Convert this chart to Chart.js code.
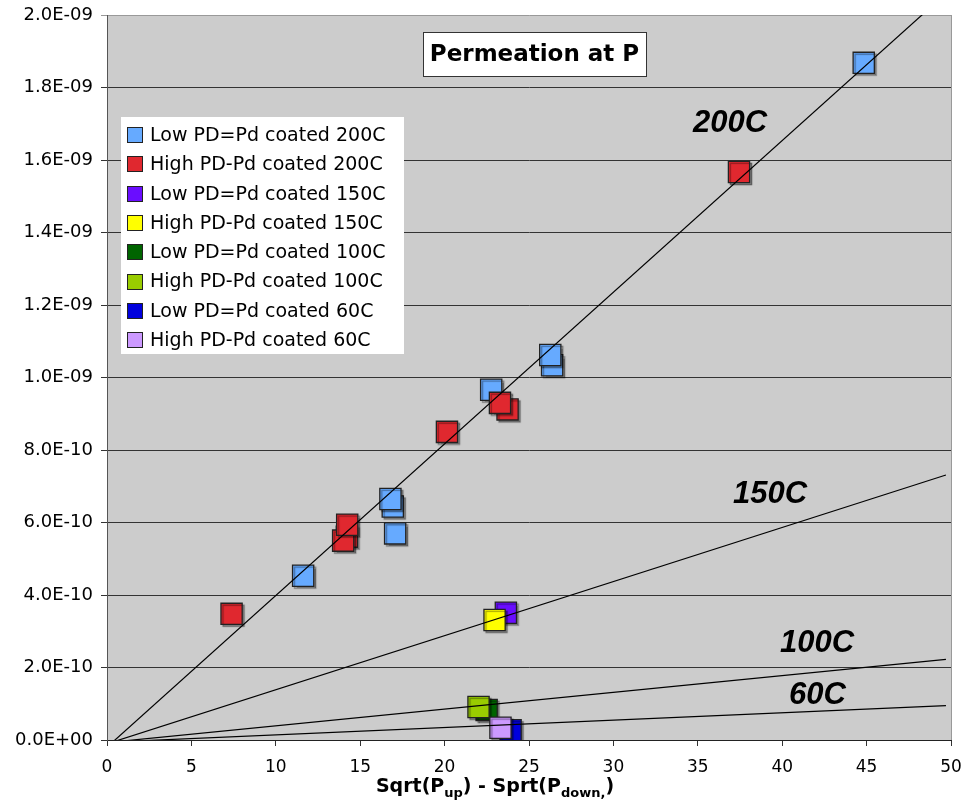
<!DOCTYPE html>
<html>
<head>
<meta charset="utf-8">
<title>Permeation at P</title>
<script src="https://cdn.jsdelivr.net/npm/chart.js@4.4.1/dist/chart.umd.min.js"></script>
<style>
    html, body { margin: 0; padding: 0; background: #fff; }
    #wrap { width: 965px; height: 801px; }
</style>
</head>
<body>
<div id="wrap"><canvas id="chart"></canvas></div>
<script>
// Series names and colours, in legend order
const seriesLabels = [
    'Low PD=Pd coated 200C', 'High PD-Pd coated 200C',
    'Low PD=Pd coated 150C', 'High PD-Pd coated 150C',
    'Low PD=Pd coated 100C', 'High PD-Pd coated 100C',
    'Low PD=Pd coated 60C', 'High PD-Pd coated 60C'
];
const seriesColors = ['#66aaff', '#e0282f', '#6a0dff', '#ffff00', '#006400', '#99cc00', '#0000dd', '#cc99ff'];

// Measured points (x = sqrt(Pup) - sqrt(Pdown), y = permeation)
const low200X  = [11.62, 16.93, 16.79, 17.07, 22.76, 26.37, 26.26, 44.83];
const low200Y  = [4.53e-10, 6.44e-10, 6.65e-10, 5.70e-10, 9.66e-10, 1.034e-9, 1.062e-9, 1.868e-9];
const high200X = [7.38, 14.21, 13.99, 14.23, 20.14, 23.73, 23.28, 37.44];
const high200Y = [3.48e-10, 5.61e-10, 5.50e-10, 5.94e-10, 8.50e-10, 9.12e-10, 9.30e-10, 1.567e-9];
const low150X  = [23.63];
const low150Y  = [3.51e-10];
const high150X = [22.96];
const high150Y = [3.31e-10];
const low100X  = [22.49];
const low100Y  = [8.3e-11];
const high100X = [22.01];
const high100Y = [9.1e-11];
const low60X   = [23.91];
const low60Y   = [2.7e-11];
const high60X  = [23.31];
const high60Y  = [3.4e-11];

// Trend lines: start at x = 0, end at trendEndX
const trendNames  = ['200C', '150C', '100C', '60C'];
const trendStartY = [-1.98e-11, -1.06e-11, -7.1e-12, -6.2e-12];
const trendEndX   = [50, 49.7, 49.7, 49.7];
const trendEndY   = [2.072e-9, 7.31e-10, 2.226e-10, 9.46e-11];

// Axis ticks
const xTicks = [0, 5, 10, 15, 20, 25, 30, 35, 40, 45, 50];
const yStep = 2e-10;
const yMax = 2e-9;

const seriesX = [low200X, high200X, low150X, high150X, low100X, high100X, low60X, high60X];
const seriesY = [low200Y, high200Y, low150Y, high150Y, low100Y, high100Y, low60Y, high60Y];

function toPoints(xs, ys) {
    return xs.map(function(x, i) { return { x: x, y: ys[i] }; });
}

// 2.0E-09 style labels
function sciLabel(v) {
    if (Math.abs(v) < 1e-15) return '0.0E+00';
    const parts = v.toExponential(1).split('e');
    const exp = parseInt(parts[1], 10);
    return parts[0] + 'E' + (exp < 0 ? '-' : '+') + String(Math.abs(exp)).padStart(2, '0');
}

const datasets = [];

trendNames.forEach(function(name, i) {
    datasets.push({
        label: name,
        isTrend: true,
        data: [{ x: 0, y: trendStartY[i] }, { x: trendEndX[i], y: trendEndY[i] }],
        showLine: true,
        borderColor: '#000',
        borderWidth: 1.2,
        pointRadius: 0,
        pointHoverRadius: 0,
        order: 0
    });
});

seriesLabels.forEach(function(label, i) {
    datasets.push({
        label: label,
        data: toPoints(seriesX[i], seriesY[i]),
        pointStyle: 'rect',
        pointRadius: 15,
        pointHoverRadius: 15,
        backgroundColor: seriesColors[i],
        borderColor: '#222',
        borderWidth: 1.3,
        showLine: false,
        order: 20 - i
    });
});

// grey plot area
const plotBackground = {
    id: 'plotBackground',
    beforeDraw(chart) {
        const a = chart.chartArea;
        const ctx = chart.ctx;
        ctx.save();
        ctx.fillStyle = '#cccccc';
        ctx.fillRect(a.left, a.top, a.right - a.left, a.bottom - a.top);
        ctx.strokeStyle = '#999';
        ctx.lineWidth = 1;
        ctx.beginPath();
        ctx.moveTo(Math.round(a.right) + 0.5, a.top);
        ctx.lineTo(Math.round(a.right) + 0.5, a.bottom);
        ctx.stroke();
        ctx.restore();
    }
};

// drop shadow under the markers
const markerShadow = {
    id: 'markerShadow',
    beforeDatasetDraw(chart, args) {
        if (chart.data.datasets[args.index].isTrend) return;
        const ctx = chart.ctx;
        ctx.save();
        ctx.shadowColor = 'rgba(0,0,0,0.35)';
        ctx.shadowOffsetX = 2;
        ctx.shadowOffsetY = 2;
        ctx.shadowBlur = 1;
    },
    afterDatasetDraw(chart, args) {
        if (chart.data.datasets[args.index].isTrend) return;
        chart.ctx.restore();
    }
};

// title box, legend, line labels, axis title
const annotations = {
    id: 'annotations',
    afterDraw(chart) {
        const ctx = chart.ctx;
        ctx.save();

        // title box
        ctx.fillStyle = '#fff';
        ctx.fillRect(423, 32, 223, 44);
        ctx.strokeStyle = '#333';
        ctx.lineWidth = 1;
        ctx.strokeRect(423.5, 32.5, 223, 44);
        ctx.fillStyle = '#000';
        ctx.font = 'bold 23px "DejaVu Sans"';
        ctx.textAlign = 'center';
        ctx.textBaseline = 'middle';
        ctx.fillText('Permeation at P', 534.5, 55);

        // legend
        ctx.fillStyle = '#fff';
        ctx.fillRect(121, 117, 283, 237);
        ctx.font = '19px "DejaVu Sans"';
        ctx.textAlign = 'left';
        ctx.textBaseline = 'middle';
        seriesLabels.forEach(function(label, i) {
            const y = 135 + i * 29.3;
            ctx.fillStyle = seriesColors[i];
            ctx.fillRect(127, Math.round(y) - 8, 16, 16);
            ctx.strokeStyle = '#222';
            ctx.strokeRect(127.5, Math.round(y) - 7.5, 15, 15);
            ctx.fillStyle = '#000';
            ctx.fillText(label, 150, y + 1);
        });

        // trend line labels
        ctx.font = 'italic bold 31px "Liberation Sans"';
        ctx.textBaseline = 'alphabetic';
        const labelPos = [[693, 132], [733, 503], [780, 652], [789, 704]];
        trendNames.forEach(function(name, i) {
            ctx.fillText(name, labelPos[i][0], labelPos[i][1]);
        });

        // x axis title with subscripts
        const parts = [
            ['Sqrt(P', false], ['up', true], [') - Sprt(P', false], ['down,', true], [')', false]
        ];
        const mainFont = 'bold 19px "DejaVu Sans"';
        const subFont = 'bold 13px "DejaVu Sans"';
        let total = 0;
        parts.forEach(function(p) {
            ctx.font = p[1] ? subFont : mainFont;
            total += ctx.measureText(p[0]).width;
        });
        let x = 495 - total / 2;
        parts.forEach(function(p) {
            ctx.font = p[1] ? subFont : mainFont;
            ctx.fillText(p[0], x, p[1] ? 797 : 792);
            x += ctx.measureText(p[0]).width;
        });

        ctx.restore();
    }
};

new Chart(document.getElementById('chart'), {
    type: 'scatter',
    data: { datasets: datasets },
    options: {
        responsive: true,
        maintainAspectRatio: false,
        animation: false,
        layout: { autoPadding: false, padding: { top: 15, right: 14, left: 0, bottom: 0 } },
        plugins: {
            legend: { display: false },
            title: { display: false },
            tooltip: { enabled: false }
        },
        scales: {
            x: {
                type: 'linear',
                min: xTicks[0],
                max: xTicks[xTicks.length - 1],
                afterBuildTicks: function(scale) {
                    scale.ticks = xTicks.map(function(v) { return { value: v }; });
                },
                afterFit: function(scale) {
                    scale.height = 61;
                    scale.paddingLeft = 0;
                    scale.paddingRight = 0;
                },
                grid: { drawOnChartArea: false, drawTicks: true, tickLength: 6, color: '#333' },
                border: { color: '#222', width: 1 },
                ticks: {
                    color: '#000',
                    padding: 11,
                    maxRotation: 0,
                    font: { family: '"DejaVu Sans"', size: 17 }
                }
            },
            y: {
                type: 'linear',
                min: 0,
                max: yMax,
                afterFit: function(scale) {
                    scale.width = 107;
                    scale.paddingTop = 0;
                    scale.paddingBottom = 0;
                },
                grid: {
                    tickLength: 6,
                    color: function(c) { return c.index === c.chart.scales.y.ticks.length - 1 ? '#999' : '#333'; }
                },
                border: { color: '#555', width: 1 },
                ticks: {
                    stepSize: yStep,
                    color: '#000',
                    padding: 8,
                    font: { family: '"DejaVu Sans"', size: 18 },
                    callback: function(v) { return sciLabel(v); }
                }
            }
        }
    },
    plugins: [plotBackground, markerShadow, annotations]
});
</script>
</body>
</html>
